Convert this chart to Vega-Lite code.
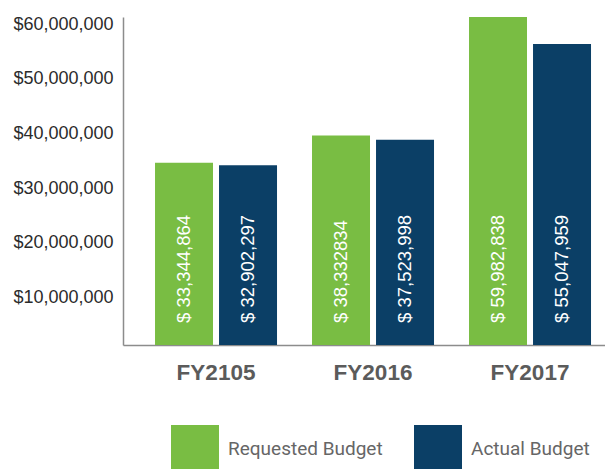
{
  "$schema": "https://vega.github.io/schema/vega-lite/v6.json",
  "autosize": "none",
  "width": 482,
  "height": 328,
  "padding": {"left": 123, "top": 17, "right": 0, "bottom": 124},
  "background": "white",
  "config": {"view": {"stroke": null}},
  "data": {
    "values": [
      {"Year": "FY2105", "Series": "Requested Budget", "Value": 33344864, "Label": "$ 33,344,864"},
      {"Year": "FY2105", "Series": "Actual Budget", "Value": 32902297, "Label": "$ 32,902,297"},
      {"Year": "FY2016", "Series": "Requested Budget", "Value": 38332834, "Label": "$ 38,332834"},
      {"Year": "FY2016", "Series": "Actual Budget", "Value": 37523998, "Label": "$ 37,523,998"},
      {"Year": "FY2017", "Series": "Requested Budget", "Value": 59982838, "Label": "$ 59,982,838"},
      {"Year": "FY2017", "Series": "Actual Budget", "Value": 55047959, "Label": "$ 55,047,959"}
    ]
  },
  "encoding": {
    "x": {
      "field": "Year", "type": "nominal",
      "sort": ["FY2105", "FY2016", "FY2017"],
      "scale": {"paddingInner": 0.2229, "paddingOuter": 0.1465, "align": 0.696},
      "axis": {
        "title": null, "labelAngle": 0, "ticks": false,
        "labelFont": "Liberation Sans", "labelFontWeight": "bold", "labelFontSize": 22.5,
        "labelColor": "#5b5b5b", "labelPadding": 16,
        "domainColor": "#8c8c8c", "domainWidth": 1.5
      }
    },
    "xOffset": {
      "field": "Series", "type": "nominal",
      "sort": ["Requested Budget", "Actual Budget"],
      "scale": {"paddingInner": 0.094, "paddingOuter": 0}
    }
  },
  "layer": [
    {
      "mark": {"type": "bar"},
      "encoding": {
        "y": {
          "field": "Value", "type": "quantitative",
          "scale": {"domain": [0, 60000000], "nice": false},
          "axis": {
            "title": null, "grid": false, "ticks": false,
            "values": [10000000, 20000000, 30000000, 40000000, 50000000, 60000000],
            "format": "$,.0f",
            "labelFont": "Liberation Sans", "labelFontSize": 18, "labelColor": "#2b2b2b",
            "labelPadding": 10, "labelOffset": 7,
            "domainColor": "#8c8c8c", "domainWidth": 1.5
          }
        },
        "color": {
          "field": "Series", "type": "nominal",
          "scale": {"domain": ["Requested Budget", "Actual Budget"], "range": ["#79bd43", "#0b3f66"]},
          "legend": {
            "title": null, "orient": "none", "direction": "horizontal",
            "legendX": 48, "legendY": 408, "padding": 0,
            "symbolType": "square", "symbolSize": 2304, "symbolStrokeWidth": 0,
            "labelFont": "Roboto", "labelFontSize": 19, "labelColor": "#666666",
            "labelOffset": 9, "columnPadding": 31, "labelLimit": 300
          }
        }
      }
    },
    {
      "mark": {"type": "text", "angle": 270, "align": "left", "baseline": "middle", "dx": 22, "color": "white", "font": "Liberation Sans", "fontSize": 18.5},
      "encoding": {
        "y": {"datum": 0, "type": "quantitative"},
        "text": {"field": "Label", "type": "nominal"}
      }
    }
  ]
}
